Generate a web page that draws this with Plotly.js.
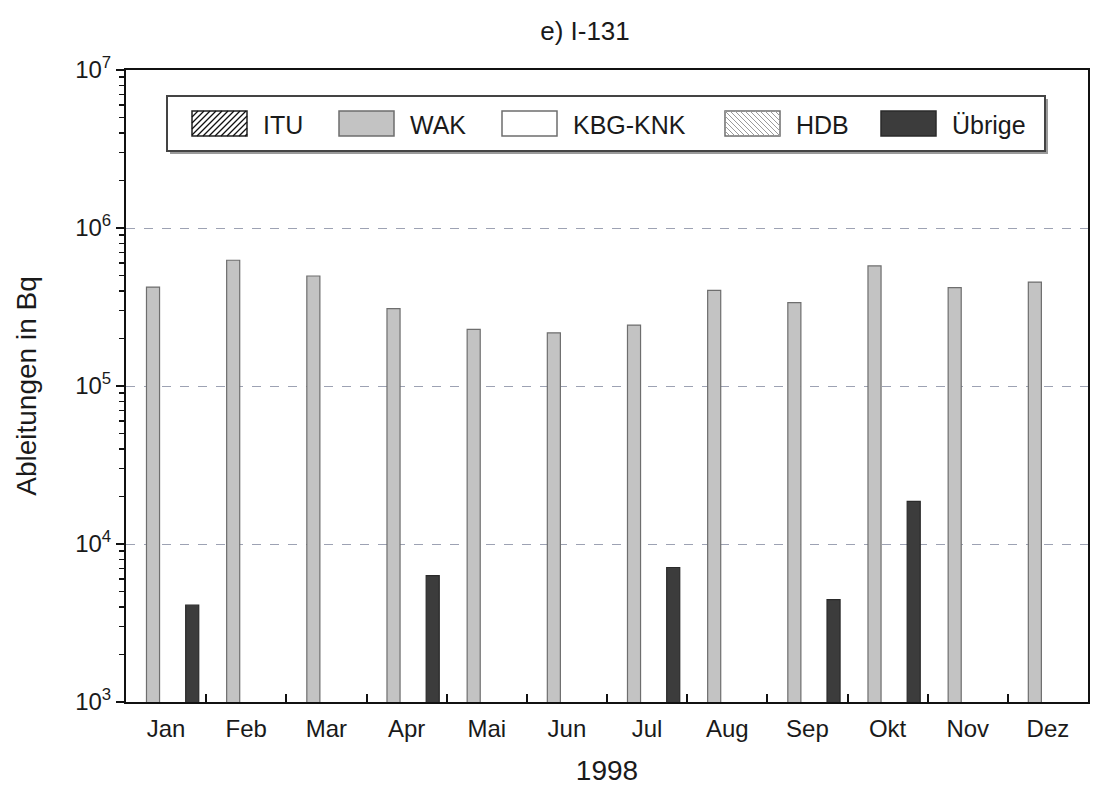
<!DOCTYPE html>
<html>
<head>
<meta charset="utf-8">
<script src="https://cdn.plot.ly/plotly-3.0.1.min.js"></script>
<style>
  html, body { margin: 0; padding: 0; background: #fff; }
  #chart { width: 1100px; height: 793px; }
</style>
</head>
<body>
<div id="chart"></div>
<script>
// Monthly I-131 discharges 1998 (Bq), by source
const months = ['Jan', 'Feb', 'Mar', 'Apr', 'Mai', 'Jun', 'Jul', 'Aug', 'Sep', 'Okt', 'Nov', 'Dez'];
const seriesNames = ['ITU', 'WAK', 'KBG-KNK', 'HDB', 'Übrige'];
const itu    = [null, null, null, null, null, null, null, null, null, null, null, null];
const wak    = [423000, 625000, 497000, 309000, 228000, 217000, 243000, 403000, 337000, 575000, 419000, 455000];
const kbgKnk = [null, null, null, null, null, null, null, null, null, null, null, null];
const hdb    = [null, null, null, null, null, null, null, null, null, null, null, null];
const uebrige = [4100, null, null, 6300, null, null, 7100, null, 4450, 18600, null, null];
const yTickVals = [1e3, 1e4, 1e5, 1e6, 1e7];
const yTickText = ['10<sup>3</sup>', '10<sup>4</sup>', '10<sup>5</sup>', '10<sup>6</sup>', '10<sup>7</sup>'];

const W = 1100, H = 793;
const M = { l: 126, r: 12, t: 70, b: 91 };
const PW = W - M.l - M.r, PH = H - M.t - M.b;
const px = x => (x - M.l) / PW;          // pixel -> paper x
const py = y => (H - M.b - y) / PH;      // pixel -> paper y
const FONT = 'Liberation Sans, Arial, Helvetica, sans-serif';

const styles = [
  { color: '#ffffff', line: '#222222', pattern: { shape: '/', fgcolor: '#111111', bgcolor: '#ffffff', size: 6, solidity: 0.25 } },
  { color: '#c3c3c3', line: '#6e6e6e' },
  { color: '#ffffff', line: '#555555' },
  { color: '#ffffff', line: '#888888', pattern: { shape: '\\', fgcolor: '#999999', bgcolor: '#ffffff', size: 6, solidity: 0.2 } },
  { color: '#3c3c3c', line: '#2a2a2a' }
];
const values = [itu, wak, kbgKnk, hdb, uebrige];

const traces = seriesNames.map((name, i) => {
  const mk = { color: styles[i].color, line: { color: styles[i].line, width: 1.2 } };
  if (styles[i].pattern) mk.pattern = styles[i].pattern;
  return { type: 'bar', name: name, x: months, y: values[i], marker: mk, showlegend: false, hoverinfo: 'x+y+name' };
});

// Boxed legend drawn with shapes and annotations
const shapes = [];
const annotations = [];
const box = { x0: 167, x1: 1045, y0: 96, y1: 151 };
shapes.push({ type: 'rect', xref: 'paper', yref: 'paper', layer: 'above',
  x0: px(box.x0 + 3), x1: px(box.x1 + 3), y0: py(box.y1 + 3), y1: py(box.y0 + 3),
  fillcolor: '#9a9a9a', line: { width: 0 } });
shapes.push({ type: 'rect', xref: 'paper', yref: 'paper', layer: 'above',
  x0: px(box.x0), x1: px(box.x1), y0: py(box.y1), y1: py(box.y0),
  fillcolor: '#ffffff', line: { color: '#444444', width: 2 } });

const swatchX = [192, 339, 502, 725, 881];
const swW = 55, swY0 = 111, swY1 = 136;

function hatchPath(x0, x1, y0, y1, step, dir) {
  let d = '';
  if (dir === '/') {
    for (let c = x0 + y0 + step; c < x1 + y1; c += step) {
      const sx = Math.max(x0, c - y1), ex = Math.min(x1, c - y0);
      if (ex > sx) d += `M${px(sx)},${py(c - sx)}L${px(ex)},${py(c - ex)}`;
    }
  } else {
    for (let c = x0 - y1 + step; c < x1 - y0; c += step) {
      const sx = Math.max(x0, c + y0), ex = Math.min(x1, c + y1);
      if (ex > sx) d += `M${px(sx)},${py(sx - c)}L${px(ex)},${py(ex - c)}`;
    }
  }
  return d;
}

seriesNames.forEach((name, i) => {
  const x0 = swatchX[i], x1 = x0 + swW;
  shapes.push({ type: 'rect', xref: 'paper', yref: 'paper', layer: 'above',
    x0: px(x0), x1: px(x1), y0: py(swY1), y1: py(swY0),
    fillcolor: styles[i].color, line: { color: i === 0 ? '#222222' : (i === 4 ? '#2a2a2a' : '#6e6e6e'), width: 1.5 } });
  if (i === 0) shapes.push({ type: 'path', xref: 'paper', yref: 'paper', layer: 'above',
    path: hatchPath(x0, x1, swY0, swY1, 6, '/'), line: { color: '#111111', width: 1.3 } });
  if (i === 3) shapes.push({ type: 'path', xref: 'paper', yref: 'paper', layer: 'above',
    path: hatchPath(x0, x1, swY0, swY1, 5, '\\'), line: { color: '#9a9a9a', width: 1 } });
  annotations.push({ xref: 'paper', yref: 'paper', x: px(x1 + 14), y: py((swY0 + swY1) / 2 + 1),
    xanchor: 'left', yanchor: 'middle', showarrow: false, text: name,
    font: { family: FONT, size: 25, color: '#1a1a1a' } });
});

const layout = {
  width: W, height: H,
  margin: M,
  paper_bgcolor: '#ffffff', plot_bgcolor: '#ffffff',
  font: { family: FONT, color: '#1a1a1a' },
  title: { text: 'e) I-131', font: { size: 26, color: '#1a1a1a' }, xref: 'paper', x: px(585), xanchor: 'center', y: 1 - 31 / H, yanchor: 'middle' },
  barmode: 'group', bargap: 0.185, bargroupgap: 0,
  xaxis: {
    type: 'category', categoryarray: months,
    title: { text: '1998', font: { size: 28 }, standoff: 20 },
    tickson: 'boundaries', ticks: 'inside', ticklen: 8, tickwidth: 2, tickcolor: '#111',
    tickfont: { size: 24 }, ticklabelstandoff: 4,
    showline: true, linecolor: '#111', linewidth: 2, mirror: true,
    showgrid: false, zeroline: false, fixedrange: true
  },
  yaxis: {
    type: 'log', range: [3, 7],
    title: { text: 'Ableitungen in Bq', font: { size: 28 }, standoff: 30 },
    tickvals: yTickVals, ticktext: yTickText,
    ticks: 'outside', ticklen: 8, tickwidth: 2, tickcolor: '#111',
    tickfont: { size: 24 },
    minor: { ticks: 'outside', ticklen: 5, tickwidth: 1.5, tickcolor: '#111', dtick: 'D1', showgrid: false },
    showline: true, linecolor: '#111', linewidth: 2, mirror: true,
    showgrid: true, gridcolor: '#9da2b3', griddash: 'dash', gridwidth: 1,
    zeroline: false, fixedrange: true
  },
  shapes: shapes,
  annotations: annotations,
  showlegend: false
};

Plotly.newPlot('chart', traces, layout, { displayModeBar: false, staticPlot: true });
</script>
</body>
</html>
